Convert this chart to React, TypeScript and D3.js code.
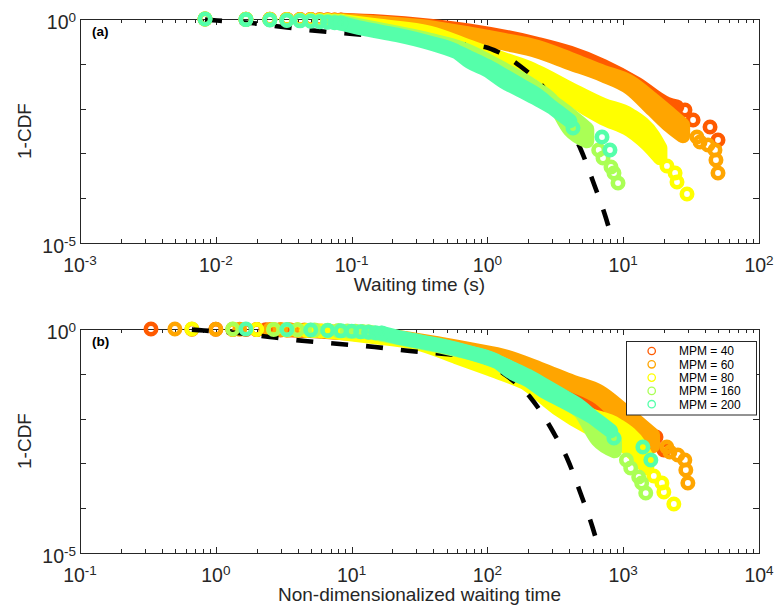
import React from "react";
import * as d3 from "d3";

type BandRow = [number, number, number]; // [time, upper 1-CDF, lower 1-CDF]
type Pt = [number, number]; // [time, 1-CDF]

// Typing speed groups (marks per minute) and their colours
const mpmLevels = [40, 60, 80, 160, 200];
const seriesColors = ["#FF5A00", "#FFA500", "#FFFF00", "#AAFF55", "#55FFAA"];

// First recorded waiting times (s): multiples of the 1/120 s frame interval
const frameTimes = [0.00833, 0.01667, 0.025, 0.03333, 0.04167, 0.05, 0.05833, 0.06667, 0.075, 0.08333];

// 1-CDF at the first frame times
const head40 = [1, 0.99, 0.985, 0.98, 0.975, 0.97, 0.965, 0.96, 0.955, 0.95];
const head60 = [1, 0.99, 0.985, 0.98, 0.975, 0.97, 0.965, 0.955, 0.95, 0.94];
const head80 = [1, 0.985, 0.975, 0.965, 0.955, 0.945, 0.93, 0.92, 0.905, 0.89];
const head160 = [1, 0.98, 0.965, 0.95, 0.935, 0.92, 0.905, 0.89, 0.875, 0.86];
const head200 = [1, 0.97, 0.95, 0.93, 0.91, 0.89, 0.87, 0.85, 0.83, 0.81];

// Dense part of each distribution (spread across trials)
const band40: BandRow[] = [
  [0.0833, 0.95, 0.95],
  [0.162, 0.87, 0.87],
  [0.378, 0.698, 0.698],
  [0.745, 0.54, 0.54],
  [2.32, 0.277, 0.277],
  [4.06, 0.174, 0.174],
  [7.1, 0.0893, 0.0893],
  [12.6, 0.0354, 0.0354],
  [21.0, 0.0127, 0.0127],
  [24.9, 0.0109, 0.0109],
];
const band60: BandRow[] = [
  [0.0833, 0.94, 0.94],
  [0.162, 0.814, 0.814],
  [0.378, 0.646, 0.646],
  [0.745, 0.463, 0.44],
  [1.3, 0.34, 0.291],
  [2.32, 0.237, 0.193],
  [4.06, 0.128, 0.104],
  [7.1, 0.0656, 0.0562],
  [11.2, 0.0392, 0.0288],
  [16.6, 0.0156, 0.0093],
  [22.1, 0.00757, 0.00409],
  [27.5, 0.0043, 0.00245],
];
const band80: BandRow[] = [
  [0.0833, 0.89, 0.89],
  [0.162, 0.698, 0.698],
  [0.378, 0.487, 0.487],
  [0.745, 0.237, 0.237],
  [1.3, 0.128, 0.128],
  [2.32, 0.0656, 0.0656],
  [4.06, 0.0274, 0.0173],
  [7.1, 0.012, 0.00617],
  [11.2, 0.00719, 0.00333],
  [16.6, 0.00245, 0.00119],
  [18.7, 0.00132, 0.000789],
];
const band160: BandRow[] = [
  [0.0833, 0.86, 0.86],
  [0.216, 0.487, 0.487],
  [0.378, 0.34, 0.34],
  [0.661, 0.214, 0.214],
  [1.3, 0.0766, 0.0766],
  [2.32, 0.0274, 0.0274],
  [3.04, 0.014, 0.014],
  [4.06, 0.00719, 0.00333],
  [5.41, 0.0035, 0.00189],
];
const band200: BandRow[] = [
  [0.0833, 0.81, 0.81],
  [0.121, 0.614, 0.614],
  [0.216, 0.44, 0.44],
  [0.378, 0.291, 0.291],
  [0.597, 0.183, 0.183],
  [0.745, 0.1347, 0.11],
  [0.993, 0.0893, 0.0727],
  [1.3, 0.0562, 0.0413],
  [1.74, 0.0336, 0.026],
  [2.32, 0.0201, 0.0164],
  [3.04, 0.0103, 0.0103],
  [4.06, 0.00529, 0.00529],
];

// Sparse longest waits
const tail40: Pt[] = [[28.5, 0.0093], [32.7, 0.00557], [43.6, 0.00388], [49.9, 0.00199]];
const tail60: Pt[] = [[34.9, 0.00232], [36.8, 0.0018], [42.1, 0.00154], [47.4, 0.00119], [48.2, 0.000712], [49.9, 0.000365]];
const tail80: Pt[] = [[21.0, 0.000524], [24.1, 0.000365], [24.9, 0.00023], [29.5, 0.000124]];
const tail160: Pt[] = [[6.6, 0.00119], [7.1, 0.000789], [8.13, 0.000497], [8.55, 0.000365], [9.16, 0.000218]];
const tail200: Pt[] = [[4.27, 0.00369], [6.98, 0.00232], [7.99, 0.00119]];

// Fitted distribution (seconds), scaled with MPM = 80 in the non-dimensional panel
const fitCurve: Pt[] = [
  [0.00833, 0.97],
  [0.0102, 0.926],
  [0.0182, 0.814],
  [0.0313, 0.663],
  [0.0566, 0.54],
  [0.102, 0.463],
  [0.185, 0.397],
  [0.336, 0.323],
  [0.607, 0.277],
  [0.96, 0.237],
  [1.2, 0.183],
  [1.74, 0.0893],
  [2.61, 0.0288],
  [3.85, 0.00477],
  [4.89, 0.00119],
  [6.09, 0.000207],
  [7.46, 3.61e-5],
  [7.85, 2.16e-5],
];
const fitMpm = 80;

// Axis decades
const xTickExpA = [-3, -2, -1, 0, 1, 2];
const xTickExpB = [-1, 0, 1, 2, 3, 4];
const yTickExp = [0, -1, -2, -3, -4, -5];
const yLabelExp = [0, -5];

const heads = [head40, head60, head80, head160, head200];
const bands = [band40, band60, band80, band160, band200];
const tails = [tail40, tail60, tail80, tail160, tail200];

const series = mpmLevels.map((mpm, i) => ({
  mpm,
  color: seriesColors[i],
  head: heads[i],
  band: bands[i],
  tail: tails[i],
}));

const FONT = "'Liberation Sans', Arial, Helvetica, sans-serif";
const INK = "#262626";
const LEFT = 80;
const RIGHT = 759;
const PH = 224;
const RING_R = 5.2;
const RING_W = 4.6;
const BAND_W = 14.6;

function PowerLabel({ x, y, exp, anchor }: { x: number; y: number; exp: number; anchor: "middle" | "end" }) {
  return (
    <text x={x} y={y} textAnchor={anchor} fontFamily={FONT} fontSize={19.5} fill={INK}>
      10
      <tspan dy={-7} fontSize={13.5}>
        {String(exp)}
      </tspan>
    </text>
  );
}

function Panel({
  top,
  xExp,
  tag,
  xTitle,
  nondim,
  legend,
}: {
  top: number;
  xExp: number[];
  tag: string;
  xTitle: string;
  nondim: boolean;
  legend: boolean;
}) {
  const bottom = top + PH;
  const x = d3
    .scaleLog()
    .domain([Math.pow(10, xExp[0]), Math.pow(10, xExp[xExp.length - 1])])
    .range([LEFT, RIGHT]);
  const y = d3.scaleLog().domain([1e-5, 1]).range([bottom, top]);

  const minor: number[] = [];
  for (let e = xExp[0]; e < xExp[xExp.length - 1]; e++) {
    for (let m = 2; m <= 9; m++) minor.push(m * Math.pow(10, e));
  }

  const factor = (mpm: number) => (nondim ? mpm : 1);

  const drawSeries = (s: (typeof series)[number]) => {
    const f = factor(s.mpm);
    const area = d3
      .area<BandRow>()
      .x((d) => x(d[0] * f))
      .y0((d) => y(d[2]))
      .y1((d) => y(d[1]))
      .curve(d3.curveMonotoneX);
    return (
      <g key={s.mpm}>
        <path d={area(s.band) || ""} fill={s.color} stroke={s.color} strokeWidth={BAND_W} strokeLinejoin="round" />
        {frameTimes.map((t, k) => (
          <circle key={"h" + k} cx={x(t * f)} cy={y(s.head[k])} r={RING_R} fill="none" stroke={s.color} strokeWidth={RING_W} />
        ))}
        {s.tail.map((d, k) => (
          <circle key={"t" + k} cx={x(d[0] * f)} cy={y(d[1])} r={RING_R} fill="none" stroke={s.color} strokeWidth={RING_W} />
        ))}
      </g>
    );
  };

  const fF = nondim ? fitMpm : 1;
  const fitLine = d3
    .line<Pt>()
    .x((d) => x(d[0] * fF))
    .y((d) => y(d[1]))
    .curve(d3.curveMonotoneX);

  const crisp = (v: number) => Math.round(v) + 0.5;

  return (
    <g>
      {/* axes box and ticks */}
      <rect x={crisp(LEFT)} y={crisp(top)} width={RIGHT - LEFT} height={PH} fill="none" stroke={INK} strokeWidth={1} />
      {xExp.map((e) => {
        const px = crisp(x(Math.pow(10, e)));
        return (
          <g key={"xM" + e}>
            <line x1={px} x2={px} y1={bottom} y2={bottom - 6} stroke={INK} strokeWidth={1} />
            <line x1={px} x2={px} y1={top} y2={top + 6} stroke={INK} strokeWidth={1} />
          </g>
        );
      })}
      {minor.map((v, i) => {
        const px = crisp(x(v));
        return (
          <g key={"xm" + i}>
            <line x1={px} x2={px} y1={bottom} y2={bottom - 4} stroke={INK} strokeWidth={1} />
            <line x1={px} x2={px} y1={top} y2={top + 4} stroke={INK} strokeWidth={1} />
          </g>
        );
      })}
      {yTickExp.map((e) => {
        const py = crisp(y(Math.pow(10, e)));
        return (
          <g key={"y" + e}>
            <line x1={LEFT} x2={LEFT + 6} y1={py} y2={py} stroke={INK} strokeWidth={1} />
            <line x1={RIGHT} x2={RIGHT - 6} y1={py} y2={py} stroke={INK} strokeWidth={1} />
          </g>
        );
      })}

      {/* tick labels */}
      {xExp.map((e) => (
        <PowerLabel key={"xl" + e} x={x(Math.pow(10, e))} y={bottom + 28.5} exp={e} anchor="middle" />
      ))}
      {yLabelExp.map((e) => (
        <PowerLabel key={"yl" + e} x={76} y={y(Math.pow(10, e)) + 10} exp={e} anchor="end" />
      ))}

      {/* axis titles */}
      <text x={(LEFT + RIGHT) / 2} y={bottom + 47.5} textAnchor="middle" fontFamily={FONT} fontSize={19} fill={INK}>
        {xTitle}
      </text>
      <text
        transform={`translate(30.5, ${(top + bottom) / 2}) rotate(-90)`}
        textAnchor="middle"
        fontFamily={FONT}
        fontSize={19}
        fill={INK}
      >
        1-CDF
      </text>

      {/* data: 40, 60, 80, fitted curve, 160, 200 */}
      {series.slice(0, 3).map(drawSeries)}
      <path d={fitLine(fitCurve) || ""} fill="none" stroke="#000" strokeWidth={4.6} strokeDasharray="17 18" />
      {series.slice(3).map(drawSeries)}

      <text x={92} y={top + 17} fontFamily={FONT} fontSize={13.5} fontWeight="bold" fill="#000">
        {tag}
      </text>

      {legend && (
        <g>
          <rect x={626.5} y={341.5} width={130} height={73.5} fill="#fff" stroke={INK} strokeWidth={1} />
          {series.map((s, i) => {
            const ry = 351 + i * 13.3;
            return (
              <g key={"lg" + s.mpm}>
                <circle cx={651.7} cy={ry} r={3.7} fill="none" stroke={s.color} strokeWidth={1.3} />
                <text x={679} y={ry + 4.3} fontFamily={FONT} fontSize={12} fill="#000">
                  {`MPM = ${s.mpm}`}
                </text>
              </g>
            );
          })}
        </g>
      )}
    </g>
  );
}

export default function App() {
  return (
    <svg
      width={775}
      height={610}
      viewBox="0 0 775 610"
      style={{ position: "absolute", left: 0, top: 0, background: "#fff" }}
    >
      <rect x={0} y={0} width={775} height={610} fill="#fff" />
      <Panel top={19} xExp={xTickExpA} tag="(a)" xTitle="Waiting time (s)" nondim={false} legend={false} />
      <Panel
        top={329}
        xExp={xTickExpB}
        tag="(b)"
        xTitle="Non-dimensionalized waiting time"
        nondim={true}
        legend={true}
      />
    </svg>
  );
}
